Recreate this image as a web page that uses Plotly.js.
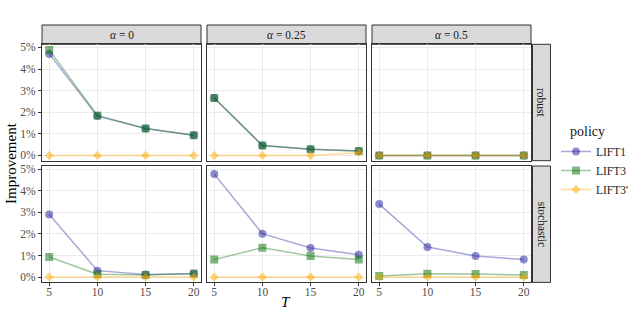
<!DOCTYPE html>
<html>
<head>
<meta charset="utf-8">
<script src="https://cdn.plot.ly/plotly-3.0.1.min.js"></script>
<style>html,body{margin:0;padding:0;background:#fff;overflow:hidden}</style>
</head>
<body>
<div id="chart" style="width:634px;height:317px"></div>
<script>
// ---- data (Improvement, %) ----
const T = [5, 10, 15, 20];
const alphaLabels = ['0', '0.25', '0.5'];
const rowLabels = ['robust', 'stochastic'];
const policies = ['LIFT1', 'LIFT3', "LIFT3'"];

// [row][alpha column] -> values over T
const LIFT1 = [
  [[4.70, 1.82, 1.25, 0.93], [2.66, 0.46, 0.28, 0.20], [0.00, 0.00, 0.00, 0.00]],
  [[2.90, 0.30, 0.12, 0.15], [4.77, 2.01, 1.35, 1.04], [3.38, 1.39, 0.98, 0.81]]
];
const LIFT3 = [
  [[4.88, 1.85, 1.25, 0.93], [2.66, 0.46, 0.28, 0.20], [0.00, 0.00, 0.00, 0.00]],
  [[0.93, 0.13, 0.10, 0.17], [0.81, 1.36, 0.98, 0.81], [0.05, 0.16, 0.14, 0.10]]
];
const LIFT3p = [
  [[0.00, 0.00, 0.00, 0.00], [0.00, 0.00, 0.00, 0.12], [0.00, 0.00, 0.00, 0.00]],
  [[0.00, 0.00, 0.00, 0.00], [0.00, 0.00, 0.00, 0.00], [0.00, 0.00, 0.00, 0.00]]
];
const yTicks = [0, 1, 2, 3, 4, 5];

// ---- styling ----
const W = 634, H = 317;
const colX = [[42, 201], [207, 366], [372, 531]];
const rowY = [[44.3, 160.7], [166, 282.4]];
const stripTop = [25, 44.3];
const stripRight = [532.5, 550.5];
const styles = [
  {name: policies[0], data: LIFT1, symbol: 'circle', mc: 'rgba(25,25,155,0.5)', lc: 'rgba(25,25,155,0.38)', size: 8},
  {name: policies[1], data: LIFT3, symbol: 'square', mc: 'rgba(0,110,0,0.5)', lc: 'rgba(0,110,0,0.38)', size: 8},
  {name: policies[2], data: LIFT3p, symbol: 'diamond', mc: 'rgba(255,170,0,0.5)', lc: 'rgba(255,170,0,0.42)', size: 7}
];
const font = 'Liberation Serif, DejaVu Serif, serif';
const px = x => x / W;
const py = y => 1 - y / H;

const traces = [];
const layout = {
  width: W, height: H,
  margin: {l: 0, r: 0, t: 0, b: 0, autoexpand: false},
  paper_bgcolor: '#fff', plot_bgcolor: '#fff',
  font: {family: font, color: '#1a1a1a'},
  showlegend: true,
  legend: {
    x: px(556), y: py(137), xanchor: 'left', yanchor: 'top',
    font: {size: 11.5, family: font, color: '#1a1a1a'},
    itemwidth: 30, tracegroupgap: 0, bgcolor: 'rgba(0,0,0,0)'
  },
  shapes: [], annotations: []
};

for (let r = 0; r < 2; r++) {
  for (let c = 0; c < 3; c++) {
    const n = r * 3 + c + 1;
    const xs = n === 1 ? '' : String(n);
    layout['xaxis' + xs] = {
      domain: [px(colX[c][0]), px(colX[c][1])], anchor: 'y' + xs,
      range: [4.25, 20.75], tickvals: T, ticktext: T.map(String),
      showticklabels: r === 1, ticks: r === 1 ? 'outside' : '', ticklen: 3, tickcolor: '#333', tickwidth: 1,
      ticklabelstandoff: -4,
      tickfont: {size: 11.5, color: '#4d4d4d', family: font},
      showgrid: true, gridcolor: '#ebebeb', gridwidth: 1, zeroline: false,
      showline: true, mirror: true, linecolor: '#333', linewidth: 1, fixedrange: true
    };
    layout['yaxis' + xs] = {
      domain: [py(rowY[r][1]), py(rowY[r][0])], anchor: 'x' + xs,
      range: [-0.245, 5.145], tickvals: yTicks, ticktext: yTicks.map(v => v + '%'),
      showticklabels: c === 0, ticks: c === 0 ? 'outside' : '', ticklen: 3, tickcolor: '#333', tickwidth: 1,
      tickfont: {size: 11.5, color: '#4d4d4d', family: font},
      showgrid: true, gridcolor: '#ebebeb', gridwidth: 1, zeroline: false,
      showline: true, mirror: true, linecolor: '#333', linewidth: 1, fixedrange: true
    };
    styles.forEach(s => {
      traces.push({
        type: 'scatter', mode: 'lines+markers', x: T, y: s.data[r][c],
        xaxis: 'x' + xs, yaxis: 'y' + xs, name: s.name, legendgroup: s.name,
        showlegend: n === 1,
        line: {color: s.lc, width: 1.5},
        marker: {symbol: s.symbol, size: s.size, color: s.mc, line: {width: 0}},
        hoverinfo: 'skip'
      });
    });
  }
}

// column strips
for (let c = 0; c < 3; c++) {
  layout.shapes.push({type: 'rect', xref: 'paper', yref: 'paper',
    x0: px(colX[c][0]), x1: px(colX[c][1]), y0: py(stripTop[1]), y1: py(stripTop[0]),
    fillcolor: '#d9d9d9', line: {color: '#333', width: 1}, layer: 'below'});
  layout.annotations.push({xref: 'paper', yref: 'paper', showarrow: false, xanchor: 'center', yanchor: 'middle',
    x: px((colX[c][0] + colX[c][1]) / 2), y: py((stripTop[0] + stripTop[1]) / 2),
    text: '<i>α</i> = ' + alphaLabels[c], font: {size: 11.5, color: '#1a1a1a', family: font}});
}
// row strips
for (let r = 0; r < 2; r++) {
  layout.shapes.push({type: 'rect', xref: 'paper', yref: 'paper',
    x0: px(stripRight[0]), x1: px(stripRight[1]), y0: py(rowY[r][1]), y1: py(rowY[r][0]),
    fillcolor: '#d9d9d9', line: {color: '#333', width: 1}, layer: 'below'});
  layout.annotations.push({xref: 'paper', yref: 'paper', showarrow: false, textangle: 90,
    xanchor: 'center', yanchor: 'middle',
    x: px((stripRight[0] + stripRight[1]) / 2), y: py((rowY[r][0] + rowY[r][1]) / 2),
    text: rowLabels[r], font: {size: 11.5, color: '#1a1a1a', family: font}});
}
// legend title, axis titles
layout.annotations.push({xref: 'paper', yref: 'paper', showarrow: false,
  xanchor: 'left', yanchor: 'middle',
  x: px(568), y: py(131), text: 'policy', font: {size: 14, color: '#1a1a1a', family: font}});
layout.annotations.push({xref: 'paper', yref: 'paper', showarrow: false, textangle: -90,
  xanchor: 'center', yanchor: 'middle',
  x: px(11), y: py(163), text: 'Improvement', font: {size: 15, color: '#000', family: font}});
layout.annotations.push({xref: 'paper', yref: 'paper', showarrow: false,
  xanchor: 'center', yanchor: 'middle',
  x: px(286), y: py(302), text: '<i>T</i>', font: {size: 15, color: '#000', family: font}});

Plotly.newPlot('chart', traces, layout, {displayModeBar: false, staticPlot: true});
</script>
</body>
</html>
